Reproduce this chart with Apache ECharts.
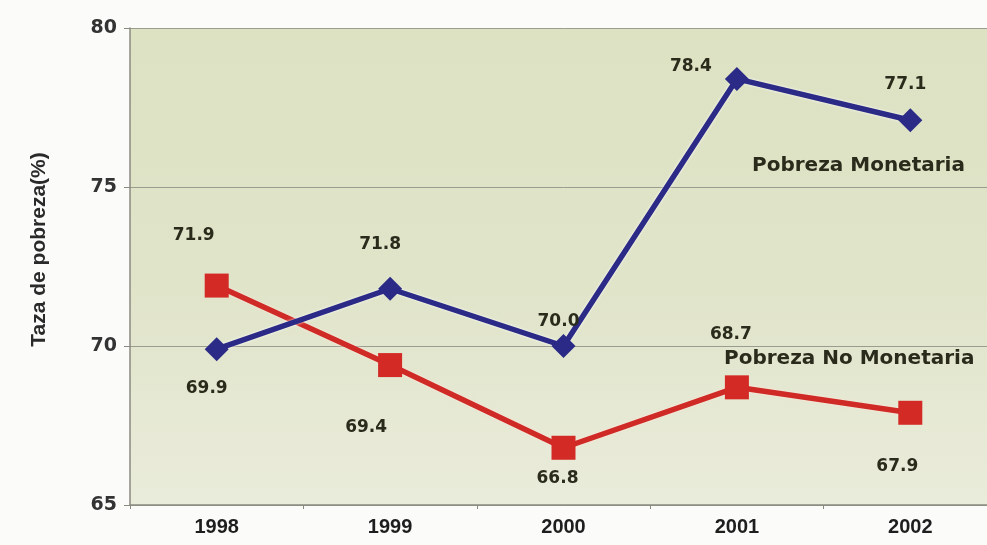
<!DOCTYPE html>
<html><head><meta charset="utf-8">
<script src="https://cdn.jsdelivr.net/npm/echarts@6/dist/echarts.min.js"></script>
<style>html,body{margin:0;padding:0;background:#fbfbf9;width:987px;height:545px;overflow:hidden}#c{width:997px;height:545px}</style>
</head><body><div id="c"></div>
<script>
var years = ['1998','1999','2000','2001','2002'];
var monetaria = [69.9, 71.8, 70.0, 78.4, 77.1];
var noMonetaria = [71.9, 69.4, 66.8, 68.7, 67.9];
var yTicks = [65, 70, 75, 80];
// label placement (layout only)
var monOffsets = [[-10, 39], [-10, -44], [-5, -24], [-46, -12], [-5, -36]];
var noMonOffsets = [[-23, -50], [-24, 62], [-6, 31], [-6, -53], [-13, 54]];

function withLabels(vals, offs) {
  return vals.map(function (v, i) {
    return { value: v, label: { offset: offs[i] } };
  });
}
var FONT = 'Liberation Sans, Arial, sans-serif';
var WIDE = 'DejaVu Sans, Liberation Sans, sans-serif';
var labelStyle = {
  show: true, position: 'inside', fontSize: 17, fontWeight: 'bold',
  color: '#2b2b1c', fontFamily: WIDE,
  formatter: function (p) { return p.value.toFixed(1); }
};
var chart = echarts.init(document.getElementById('c'));
chart.setOption({
  backgroundColor: '#fbfbf9',
  animation: false,
  grid: { left: 130, right: 0, top: 28, bottom: 40, show: true, borderWidth: 0,
    backgroundColor: new echarts.graphic.LinearGradient(0, 0, 0, 1, [
      { offset: 0, color: '#dde2c3' }, { offset: 0.55, color: '#e0e4c9' }, { offset: 1, color: '#eaecdb' }]) },
  xAxis: {
    type: 'category', data: years, boundaryGap: true,
    axisLine: { lineStyle: { color: '#8a8a80', width: 1.5 } },
    axisTick: { show: true, length: 4, lineStyle: { color: '#8a8a80' } },
    axisLabel: { fontSize: 20, fontWeight: 'bold', color: '#1e1e1e', margin: 12, fontFamily: FONT }
  },
  yAxis: {
    type: 'value', min: yTicks[0], max: yTicks[yTicks.length - 1], interval: 5,
    name: 'Taza de pobreza(%)', nameLocation: 'middle', nameGap: 80, nameRotate: 90,
    nameTextStyle: { fontSize: 21, fontWeight: 'bold', color: '#2a2a2a', fontFamily: FONT,
      padding: [0, 0, 0, 34] },
    axisLine: { show: true, lineStyle: { color: '#8a8a80', width: 1.5 } },
    axisTick: { show: true, length: 6, lineStyle: { color: '#8a8a80' } },
    axisLabel: { fontSize: 19, fontWeight: 'bold', color: '#333', margin: 13, fontFamily: WIDE },
    splitLine: { show: true, lineStyle: { color: '#9a9c90', width: 1 } }
  },
  series: [
    { name: 'Pobreza Monetaria', type: 'line', data: withLabels(monetaria, monOffsets),
      symbol: 'diamond', symbolSize: 24,
      lineStyle: { color: '#2b2a86', width: 5.5, shadowColor: 'rgba(255,255,255,0.9)', shadowBlur: 3 },
      itemStyle: { color: '#2b2a86' },
      label: labelStyle, z: 3 },
    { name: 'Pobreza No Monetaria', type: 'line', data: withLabels(noMonetaria, noMonOffsets),
      symbol: 'rect', symbolSize: 24,
      lineStyle: { color: '#cf2a26', width: 5.5, shadowColor: 'rgba(255,230,220,0.9)', shadowBlur: 3 },
      itemStyle: { color: '#d32a26' },
      label: labelStyle, z: 2 }
  ],
  graphic: [
    { type: 'text', left: 752, top: 156, z: 10,
      style: { text: 'Pobreza Monetaria', fontSize: 20, fontWeight: 'bold', fill: '#2b2b1c',
        letterSpacing: 2.5, fontFamily: WIDE } },
    { type: 'text', left: 724, top: 349, z: 10,
      style: { text: 'Pobreza No Monetaria', fontSize: 20, fontWeight: 'bold', fill: '#2b2b1c',
        letterSpacing: 2, fontFamily: WIDE } }
  ]
});
</script></body></html>
